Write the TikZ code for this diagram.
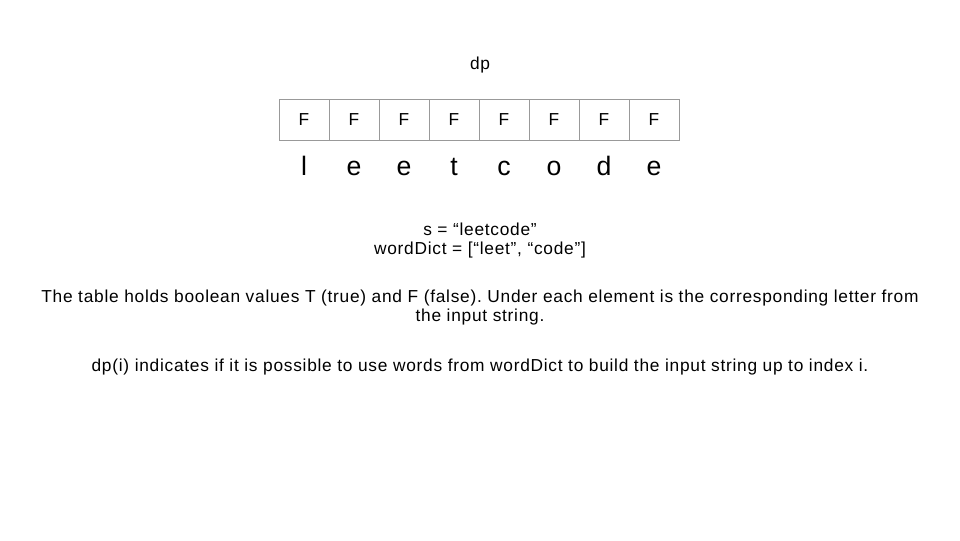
\documentclass[tikz,border=0pt]{standalone}
\usepackage{fontspec}
\setmainfont{Liberation Sans}
\newfontfamily\widefont[LetterSpace=4.2]{Liberation Sans}
\frenchspacing
\begin{document}
\begin{tikzpicture}[x=0.75pt,y=-0.75pt,
  cellbox/.style={draw=black!40,line width=0.75pt,minimum width=37.5pt,minimum height=30.75pt,inner sep=0pt,font=\fontsize{13}{14}\selectfont},
  letter/.style={anchor=base,inner sep=0pt,font=\fontsize{20}{24}\selectfont},
  body/.style={anchor=base,inner sep=0pt,font=\widefont\fontsize{13}{15}\selectfont}]
\useasboundingbox (0,0) rectangle (960,540);
\fill[white] (0,0) rectangle (960,540);
\node[body] (title) at (480,69) {dp};
\foreach \i/\ch in {0/l,1/e,2/e,3/t,4/c,5/o,6/d,7/e}{
  \node[cellbox] (c\i) at ({304+50*\i},119.5) {F};
  \node[letter] (l\i) at ({304+50*\i},175) {\ch};
}
\node[body] (s) at (480,235.5) {s = “leetcode”};
\node[body] (wd) at (480,254) {wordDict = [“leet”, “code”]};
\node[body] (t1) at (480,302.5) {The table holds boolean values T (true) and F (false). Under each element is the corresponding letter from};
\node[body] (t2) at (480,321.5) {the input string.};
\node[body] (t3) at (480,371) {dp(i) indicates if it is possible to use words from wordDict to build the input string up to index i.};
\end{tikzpicture}
\end{document}
